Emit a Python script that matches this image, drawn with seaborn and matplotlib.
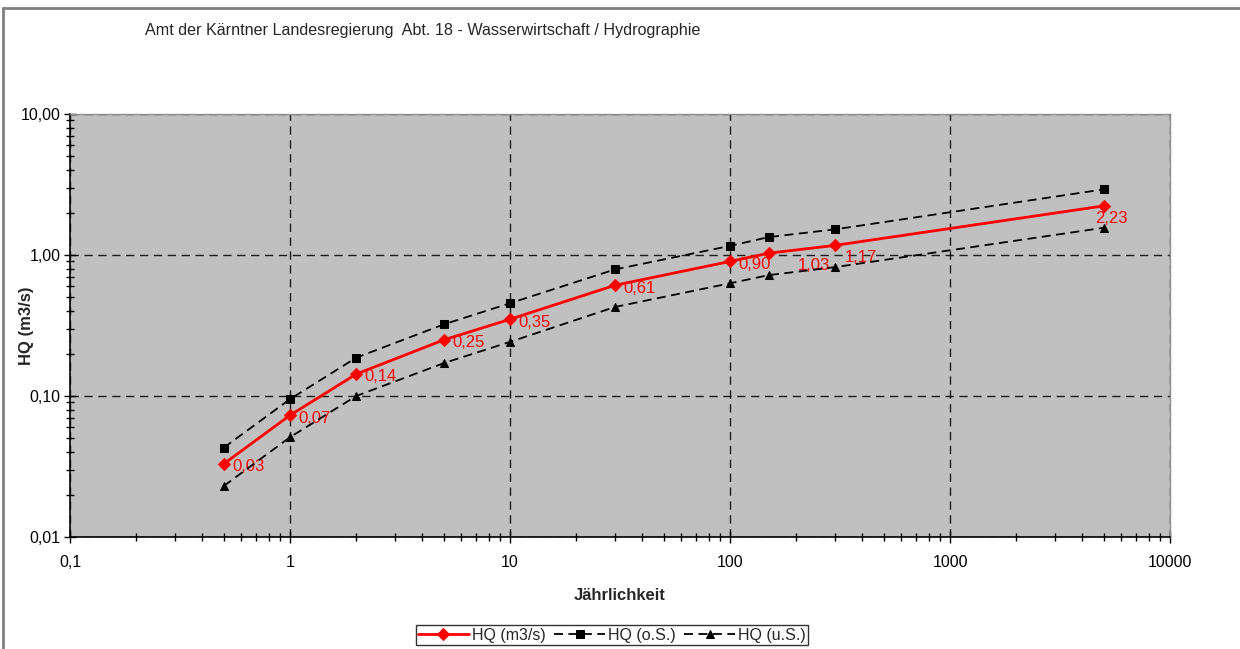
import numpy as np
import pandas as pd
import matplotlib
matplotlib.use("Agg")
import matplotlib.pyplot as plt
from matplotlib.lines import Line2D
from matplotlib.ticker import FixedLocator, FixedFormatter, LogLocator, NullFormatter
import seaborn as sns

# ---- data ----
jaehrlichkeit = [0.5, 1, 2, 5, 10, 30, 100, 150, 300, 5000]
hq = [0.033, 0.073, 0.143, 0.25, 0.35, 0.61, 0.90, 1.03, 1.17, 2.23]
hq_labels = ["0,03", "0,07", "0,14", "0,25", "0,35", "0,61", "0,90", "1,03", "1,17", "2,23"]
hq_os = [0.043, 0.095, 0.187, 0.322, 0.455, 0.79, 1.16, 1.34, 1.52, 2.92]
hq_us = [0.023, 0.051, 0.100, 0.171, 0.242, 0.428, 0.63, 0.72, 0.82, 1.56]
x_ticks = [0.1, 1, 10, 100, 1000, 10000]
x_ticklabels = ["0,1", "1", "10", "100", "1000", "10000"]
y_ticks = [0.01, 0.1, 1, 10]
y_ticklabels = ["0,01", "0,10", "1,00", "10,00"]
title = "Amt der Kärntner Landesregierung  Abt. 18 - Wasserwirtschaft / Hydrographie"

sns.set_theme(style="white")
plt.rcParams["font.family"] = ["Liberation Sans", "DejaVu Sans"]

fig = plt.figure(figsize=(12.4, 6.49), dpi=100)
ax = fig.add_axes([70 / 1240, 1 - 537 / 649, 1100 / 1240, 423 / 649])
ax.set_facecolor("#C0C0C0")

sns.lineplot(x=jaehrlichkeit, y=hq, ax=ax, color="#FF0000", lw=2.0, marker="D",
             markersize=6.5, markeredgecolor="#FF0000", label="HQ (m3/s)", sort=False, zorder=5)
sns.lineplot(x=jaehrlichkeit, y=hq_os, ax=ax, color="black", lw=1.3, linestyle=(0, (5, 3)),
             marker="s", markersize=6, markeredgecolor="black", label="HQ (o.S.)", sort=False, zorder=4)
sns.lineplot(x=jaehrlichkeit, y=hq_us, ax=ax, color="black", lw=1.3, linestyle=(0, (5, 3)),
             marker="^", markersize=6, markeredgecolor="black", label="HQ (u.S.)", sort=False, zorder=4)

ax.set_xscale("log")
ax.set_yscale("log")
ax.set_xlim(0.1, 10000)
ax.set_ylim(0.01, 10)

lab_fs = 12
for i, (xv, yv, lab) in enumerate(zip(jaehrlichkeit, hq, hq_labels)):
    if i == len(hq) - 1:
        ax.annotate(lab, (xv, yv), xytext=(-6, -4), textcoords="offset points",
                    ha="left", va="top", color="#FF0000", fontsize=lab_fs)
    elif i == 7:
        ax.annotate(lab, (xv, yv), xytext=(21, -9), textcoords="offset points",
                    ha="left", va="center", color="#FF0000", fontsize=lab_fs)
    elif i == 8:
        ax.annotate(lab, (xv, yv), xytext=(7, -9), textcoords="offset points",
                    ha="left", va="center", color="#FF0000", fontsize=lab_fs)
    else:
        ax.annotate(lab, (xv, yv), xytext=(6, -2), textcoords="offset points",
                    ha="left", va="center", color="#FF0000", fontsize=lab_fs)

ax.xaxis.set_major_locator(FixedLocator(x_ticks))
ax.xaxis.set_major_formatter(FixedFormatter(x_ticklabels))
ax.yaxis.set_major_locator(FixedLocator(y_ticks))
ax.yaxis.set_major_formatter(FixedFormatter(y_ticklabels))
ax.xaxis.set_minor_locator(LogLocator(base=10, subs=np.arange(2, 10), numticks=20))
ax.yaxis.set_minor_locator(LogLocator(base=10, subs=np.arange(2, 10), numticks=20))
ax.xaxis.set_minor_formatter(NullFormatter())
ax.yaxis.set_minor_formatter(NullFormatter())

ax.tick_params(axis="both", which="major", direction="inout", length=8, width=1,
               color="black", labelsize=11.5, labelcolor="black", left=True, bottom=True)
ax.tick_params(axis="both", which="minor", direction="inout", length=6, width=1,
               color="black", left=True, bottom=True)
ax.tick_params(axis="x", which="major", pad=9)
ax.tick_params(axis="y", which="major", pad=3)

ax.grid(True, which="major", color="black", linestyle=(0, (6, 4)), lw=1.0, alpha=0.85)
ax.set_axisbelow(True)

for s in ["left", "bottom"]:
    ax.spines[s].set_color("black")
    ax.spines[s].set_linewidth(1.2)
for s in ["top", "right"]:
    ax.spines[s].set_color("#909090")
    ax.spines[s].set_linewidth(1.0)

ax.set_xlabel("Jährlichkeit", fontsize=12, fontweight="bold", labelpad=13)
ax.set_ylabel("")
fig.text(27 / 1240, 1 - 326 / 649, "HQ (m3/s)", fontsize=12, fontweight="bold",
         rotation=90, ha="center", va="center")

fig.text(145 / 1240, 1 - 31 / 649, title, fontsize=11.6, ha="left", va="center")

leg = ax.legend(loc="lower center", bbox_to_anchor=(612 / 1240, 4 / 649),
                bbox_transform=fig.transFigure, ncol=3, frameon=True, fancybox=False,
                edgecolor="black", fontsize=11.5, handlelength=3.2, handletextpad=0.2,
                columnspacing=0.5, borderpad=0.15, borderaxespad=0)
leg.get_frame().set_linewidth(1.0)

# outer chart border (top and left)
fig.add_artist(Line2D([3 / 1240, 1.0], [1 - 8 / 649, 1 - 8 / 649], transform=fig.transFigure,
                      color="#808080", lw=2))
fig.add_artist(Line2D([3 / 1240, 3 / 1240], [0, 1 - 8 / 649], transform=fig.transFigure,
                      color="#808080", lw=2))

fig.savefig("out.png", dpi=100, facecolor="white")
